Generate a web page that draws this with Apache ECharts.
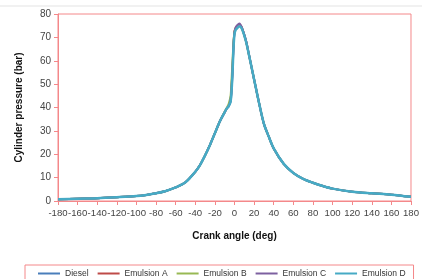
<!DOCTYPE html>
<html><head><meta charset="utf-8">
<script src="https://cdn.jsdelivr.net/npm/echarts@6/dist/echarts.min.js"></script>
<style>html,body{margin:0;padding:0;background:#fff}#c{width:422px;height:279px}</style>
</head><body><div id="c"></div>
<script>
var angles = [-180,-160,-140,-120,-100,-90,-80,-70,-60,-50,-40,-35,-30,-25,-20,-15,-10,-8,-6,-4,-3,-2,-1,0,1,2,3,4,5,6,7,8,10,12,15,18,20,25,30,35,40,50,60,70,80,90,100,120,140,160,180];
var diesel    = [0.7,1.0,1.2,1.6,2.1,2.6,3.3,4.3,5.8,8.0,12.5,15.5,19.5,24,29,34,38,39.5,40.5,42.5,47,55,66,72,73.5,74,74.5,75,75.3,75,74.5,73.5,71,68,62,56,52,42,33,27.5,22.5,16,12,9.5,7.8,6.4,5.3,4.0,3.3,2.7,1.8];
var emulsionA = [0.7,1.0,1.2,1.6,2.1,2.6,3.3,4.3,5.8,8.0,12.5,15.5,19.5,24,29,34,38,39.6,40.8,43.5,49,57,67,72.5,74,74.5,75,75.4,75.6,75.2,74.6,73.6,71,68,62,56,52,42,33,27.5,22.5,16,12,9.5,7.8,6.4,5.3,4.0,3.3,2.7,1.8];
var emulsionB = [0.7,1.0,1.2,1.6,2.1,2.6,3.3,4.3,5.8,8.0,12.5,15.5,19.5,24,29,34,38.2,39.8,41.5,45,52,60,68,72.5,73.5,74,74.3,74.6,74.8,74.6,74.2,73.3,70.8,67.8,62,56,52,42,33,27.5,22.5,16,12,9.5,7.8,6.4,5.3,4.0,3.3,2.7,1.8];
var emulsionC = [0.7,1.0,1.2,1.6,2.1,2.6,3.3,4.3,5.8,8.0,12.5,15.5,19.5,24,29,34,38,39.5,40.6,43,48,56,66.5,72.5,74,74.8,75.3,75.7,75.9,75.5,74.8,73.8,71.2,68.2,62.2,56,52,42,33,27.5,22.5,16,12,9.5,7.8,6.4,5.3,4.0,3.3,2.7,1.8];
var emulsionD = [0.7,1.0,1.2,1.6,2.1,2.6,3.3,4.3,5.8,8.0,12.5,15.5,19.5,24,29,34,38,39.5,40.5,42.5,47,55,65.5,71.5,73,73.6,74.1,74.5,74.8,74.6,74.1,73.2,70.8,67.8,62,56,52,42,33,27.5,22.5,16,12,9.5,7.8,6.4,5.3,4.0,3.3,2.7,1.8];
var seriesNames = ['Diesel','Emulsion A','Emulsion B','Emulsion C','Emulsion D'];
var seriesColors = ['#4A7EBB','#BE4B48','#98B954','#7D60A0','#46AAC5'];
var xTicks = {min:-180, max:180, step:20};
var yTicks = {min:0, max:80, step:10};

var allData = [diesel, emulsionA, emulsionB, emulsionC, emulsionD];
function pairs(arr){ return angles.map(function(a,i){ return [a, arr[i]]; }); }

var red = '#F4888A';
var chart = echarts.init(document.getElementById('c'), null, {renderer:'canvas'});
var series = allData.map(function(d, i){
  return {
    name: seriesNames[i], type:'line', data: pairs(d), showSymbol:false, symbol:'none',
    smooth: 0.3, lineStyle:{color:seriesColors[i], width: i===4 ? 2.5 : 2}, itemStyle:{color:seriesColors[i]},
    z: 2 + i, animation:false
  };
});
chart.setOption({
  animation:false,
  backgroundColor:'#fff',
  textStyle:{fontFamily:'Liberation Sans'},
  grid:{left:58, right:4, top:14, bottom:78, show:true, borderColor:red, borderWidth:1, backgroundColor:'transparent'},
  graphic:[{type:'line', shape:{x1:0,y1:6,x2:422,y2:6}, style:{stroke:'#E3E3E3', lineWidth:1}}],
  legend:{
    left:25, top:265, padding:[4,8,4,13], borderColor:red, borderWidth:1,
    itemWidth:22, itemHeight:10, itemGap:9,
    icon:'path://M0,4 L22,4 L22,6 L0,6 Z',
    textStyle:{fontSize:8.5, color:'#333', fontFamily:'Liberation Sans'},
    data: seriesNames.map(function(n,i){
      return i===0 ? {name:n, textStyle:{width:38}} : {name:n};
    })
  },
  xAxis:{
    type:'value', min:xTicks.min, max:xTicks.max, interval:xTicks.step,
    name:'Crank angle (deg)', nameLocation:'middle', nameGap:30,
    nameTextStyle:{fontWeight:'bold', fontSize:10, color:'#111'},
    axisLine:{show:true, onZero:false, lineStyle:{color:red}},
    axisTick:{show:true, length:4, lineStyle:{color:red}},
    axisLabel:{fontSize:9.6, color:'#444', margin:7, hideOverlap:false},
    splitLine:{show:false}
  },
  yAxis:{
    type:'value', min:yTicks.min, max:yTicks.max, interval:yTicks.step,
    name:'Cylinder pressure (bar)', nameLocation:'middle', nameGap:34,
    nameTextStyle:{fontWeight:'bold', fontSize:10, color:'#111'},
    axisLine:{show:true, onZero:false, lineStyle:{color:red}},
    axisTick:{show:true, length:4, lineStyle:{color:red}},
    axisLabel:{fontSize:10, color:'#444', margin:7},
    splitLine:{show:false}
  },
  series: series
});
</script></body></html>
